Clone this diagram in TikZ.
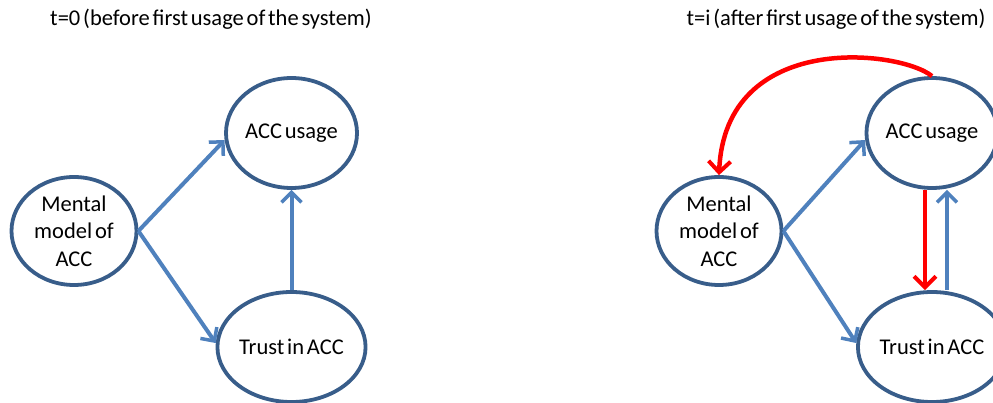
\documentclass[tikz,border=0pt]{standalone}
\usepackage{fontspec}
\setmainfont{Carlito}[WordSpace=0.55]
\usetikzlibrary{arrows.meta,shapes.geometric}
\definecolor{edgeblue}{HTML}{385D8A}
\definecolor{arrblue}{HTML}{4F81BD}
\definecolor{arrred}{HTML}{FF0000}
\begin{document}
\begin{tikzpicture}[x=1pt,y=-1pt,
  bubble/.style={ellipse,draw=edgeblue,line width=3.8pt,fill=white,inner sep=0pt,
     minimum width=124pt,minimum height=110pt,align=center,font=\fontsize{22.5}{27.5}\selectfont},
  blueflow/.style={draw=arrblue,line width=4pt,-{Straight Barb[length=10pt,width=20pt,line width=3.5pt]}},
  redflow/.style={draw=arrred,line width=4.5pt,-{Straight Barb[length=11pt,width=22pt,line width=4pt]}},
  title/.style={font=\fontsize{22.5}{24}\selectfont,inner sep=0pt}]
\useasboundingbox (0,0) rectangle (993,403);
\clip (0,0) rectangle (993,403);
% left panel
\node[title] (t0) at (211,19) {t=0 (before first usage of the system)};
\node[bubble,minimum height=108pt,minimum width=125pt] (m1) at (74,231) {Mental\\model of\\ACC};
\node[bubble] (a1) at (291.5,133) {ACC usage};
\node[bubble] (r1) at (291.5,347) {Trust in ACC};
\draw[blueflow] (m1.east) -- (a1.186);
\draw[blueflow] (m1.east) -- (r1.177);
\draw[blueflow] (r1.north) -- (a1.south);
% right panel
\node[title] (ti) at (836,19) {t=i (after first usage of the system)};
\node[bubble,minimum height=108pt,minimum width=125pt] (m2) at (719,231) {Mental\\model of\\ACC};
\node[bubble] (a2) at (932,133) {ACC usage};
\node[bubble] (r2) at (932,347) {Trust in ACC};
\draw[blueflow] (m2.east) -- (a2.186);
\draw[blueflow] (m2.east) -- (r2.177);
\draw[redflow] ([xshift=-7pt]a2.south) -- ([xshift=-7pt]r2.north);
\draw[blueflow] ([xshift=15pt]r2.north) -- ([xshift=15pt]a2.south);
\draw[redflow] (a2.north) .. controls (900,50) and (725,30) .. (m2.north);
\end{tikzpicture}
\end{document}
